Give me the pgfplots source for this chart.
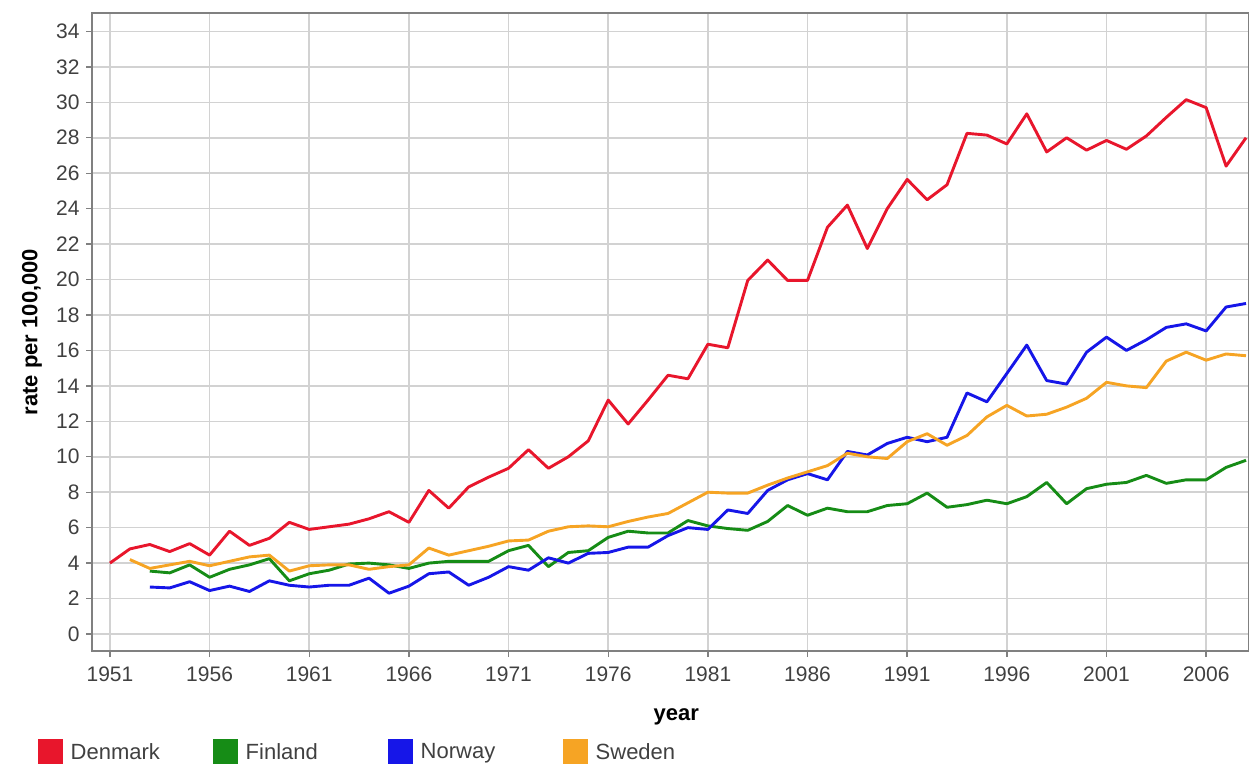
\documentclass[border=0pt]{standalone}
\usepackage{pgfplots}
\pgfplotsset{compat=1.18}
\usepackage{fontspec}
\setmainfont{Liberation Sans}
\definecolor{cDen}{RGB}{232,22,44}
\definecolor{cFin}{RGB}{22,140,22}
\definecolor{cNor}{RGB}{22,22,232}
\definecolor{cSwe}{RGB}{246,164,36}
\definecolor{gridc}{RGB}{210,210,210}
\definecolor{axc}{RGB}{128,128,128}
\definecolor{tlc}{RGB}{64,64,64}
\begin{document}
\begin{tikzpicture}
\path[use as bounding box] (0,0) rectangle (1249pt,769pt);
\begin{axis}[
  at={(92pt,118pt)}, anchor=south west,
  scale only axis, width=1157pt, height=638pt,
  xmin=1950.1, xmax=2008.15, ymin=-0.96, ymax=35.04,
  xtick={1951,1956,...,2006}, ytick={0,2,...,34},
  xticklabel style={/pgf/number format/1000 sep={}, yshift=-6pt},
  yticklabel style={xshift=-3pt},
  /pgf/number format/assume math mode=true,
  ticklabel style={font=\fontsize{21}{24}\selectfont, text=tlc},
  xtick pos=bottom, ytick pos=left,
  tick align=outside, major tick length=6pt,
  tick style={axc, line width=1.4pt},
  axis line style={axc, line width=2.5pt},
  grid=major, major grid style={gridc, line width=1.6pt},
  xlabel={\textbf{year}}, ylabel={\textbf{rate per 100,000}},
  label style={font=\fontsize{22}{26}\selectfont},
  xlabel style={at={(axis description cs:0.505,-0.103)}, anchor=center},
  ylabel style={at={(axis description cs:-0.0518,0.5)}, anchor=center},
  every axis plot/.append style={line width=2.9pt, line join=round},
  legend columns=4,
  legend style={at={(axis description cs:-0.0497,-0.158)}, anchor=west, draw=none, fill=none,
    font=\fontsize{22}{26}\selectfont, text=tlc,
    /tikz/every even column/.append style={column sep=0pt}},
  legend image code/.code={\fill[#1, draw=none] (0pt,-12.5pt) rectangle (25pt,12.5pt);},
]
\addplot[cDen] coordinates {
(1951,4.0)(1952,4.8)(1953,5.05)(1954,4.65)(1955,5.1)(1956,4.45)(1957,5.8)(1958,5.0)(1959,5.4)(1960,6.3)
(1961,5.9)(1962,6.05)(1963,6.2)(1964,6.5)(1965,6.9)(1966,6.3)(1967,8.1)(1968,7.1)(1969,8.3)(1970,8.85)
(1971,9.35)(1972,10.4)(1973,9.35)(1974,10.0)(1975,10.9)(1976,13.2)(1977,11.85)(1978,13.2)(1979,14.6)(1980,14.4)
(1981,16.35)(1982,16.15)(1983,19.95)(1984,21.1)(1985,19.95)(1986,19.95)(1987,22.95)(1988,24.2)(1989,21.75)(1990,24.0)
(1991,25.65)(1992,24.5)(1993,25.35)(1994,28.25)(1995,28.15)(1996,27.65)(1997,29.35)(1998,27.2)(1999,28.0)(2000,27.3)
(2001,27.85)(2002,27.35)(2003,28.1)(2004,29.15)(2005,30.15)(2006,29.7)(2007,26.4)(2008,28.0)};
\addlegendentry{\makebox[146pt][l]{\hspace{6pt}Denmark}}
\addplot[cFin] coordinates {
(1953,3.55)(1954,3.45)(1955,3.9)(1956,3.2)(1957,3.65)(1958,3.9)(1959,4.25)(1960,3.0)
(1961,3.4)(1962,3.6)(1963,3.95)(1964,4.0)(1965,3.9)(1966,3.7)(1967,4.0)(1968,4.1)(1969,4.1)(1970,4.1)
(1971,4.7)(1972,5.0)(1973,3.8)(1974,4.6)(1975,4.7)(1976,5.45)(1977,5.8)(1978,5.7)(1979,5.7)(1980,6.4)
(1981,6.1)(1982,5.95)(1983,5.85)(1984,6.35)(1985,7.25)(1986,6.7)(1987,7.1)(1988,6.9)(1989,6.9)(1990,7.25)
(1991,7.35)(1992,7.95)(1993,7.15)(1994,7.3)(1995,7.55)(1996,7.35)(1997,7.75)(1998,8.55)(1999,7.35)(2000,8.2)
(2001,8.45)(2002,8.55)(2003,8.95)(2004,8.5)(2005,8.7)(2006,8.7)(2007,9.4)(2008,9.8)};
\addlegendentry{\makebox[146pt][l]{\hspace{6pt}Finland}}
\addplot[cNor] coordinates {
(1953,2.65)(1954,2.6)(1955,2.95)(1956,2.45)(1957,2.7)(1958,2.4)(1959,3.0)(1960,2.75)
(1961,2.65)(1962,2.75)(1963,2.75)(1964,3.15)(1965,2.3)(1966,2.7)(1967,3.4)(1968,3.5)(1969,2.75)(1970,3.2)
(1971,3.8)(1972,3.6)(1973,4.3)(1974,4.0)(1975,4.55)(1976,4.6)(1977,4.9)(1978,4.9)(1979,5.55)(1980,6.0)
(1981,5.9)(1982,7.0)(1983,6.8)(1984,8.1)(1985,8.7)(1986,9.05)(1987,8.7)(1988,10.3)(1989,10.1)(1990,10.75)
(1991,11.1)(1992,10.85)(1993,11.1)(1994,13.6)(1995,13.1)(1996,14.7)(1997,16.3)(1998,14.3)(1999,14.1)(2000,15.9)
(2001,16.75)(2002,16.0)(2003,16.6)(2004,17.3)(2005,17.5)(2006,17.1)(2007,18.45)(2008,18.65)};
\addlegendentry{\makebox[146pt][l]{\hspace{6pt}Norway}}
\addplot[cSwe] coordinates {
(1952,4.2)(1953,3.7)(1954,3.9)(1955,4.1)(1956,3.85)(1957,4.1)(1958,4.35)(1959,4.45)(1960,3.55)
(1961,3.85)(1962,3.9)(1963,3.9)(1964,3.65)(1965,3.8)(1966,3.9)(1967,4.85)(1968,4.45)(1969,4.7)(1970,4.95)
(1971,5.25)(1972,5.3)(1973,5.8)(1974,6.05)(1975,6.1)(1976,6.05)(1977,6.35)(1978,6.6)(1979,6.8)(1980,7.4)
(1981,8.0)(1982,7.95)(1983,7.95)(1984,8.4)(1985,8.8)(1986,9.15)(1987,9.5)(1988,10.2)(1989,10.0)(1990,9.9)
(1991,10.85)(1992,11.3)(1993,10.65)(1994,11.2)(1995,12.25)(1996,12.9)(1997,12.3)(1998,12.4)(1999,12.8)(2000,13.3)
(2001,14.2)(2002,14.0)(2003,13.9)(2004,15.4)(2005,15.9)(2006,15.45)(2007,15.8)(2008,15.7)};
\addlegendentry{\makebox[146pt][l]{\hspace{6pt}Sweden}}
\end{axis}
\end{tikzpicture}
\end{document}
